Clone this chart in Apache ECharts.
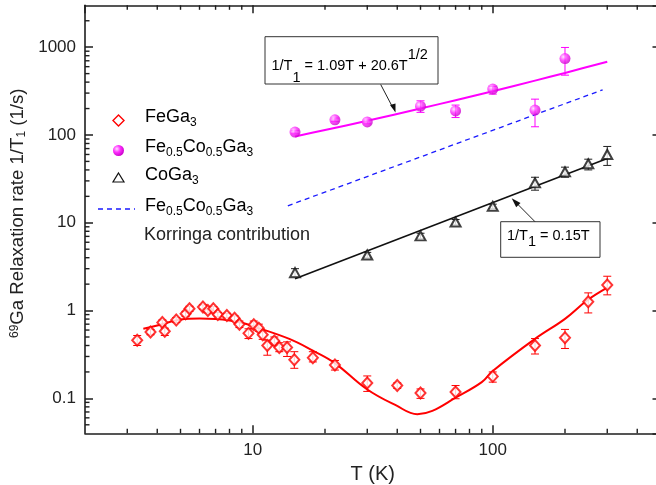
<!DOCTYPE html>
<html lang="en">
<head>
  <meta charset="UTF-8">
  <title>69Ga relaxation rate</title>
  <style>
    html, body { margin: 0; padding: 0; background: #fff; }
    #chart { width: 656px; height: 485px; }
  </style>
  <script src="https://cdn.jsdelivr.net/npm/echarts@6/dist/echarts.min.js"></script>
</head>
<body>
  <div id="chart"></div>
<script>
  // FeGa3 data (T in K, 1/T1 in 1/s)
  var feT   = [3.3, 3.75, 4.2, 4.3, 4.8, 5.25, 5.45, 6.2, 6.5, 6.85, 7.15, 7.8, 8.4, 8.8, 9.6, 10.1, 10.6, 11.0, 11.5, 12.3, 12.9, 13.9, 14.9, 17.8, 22, 30, 40, 50, 70, 100, 150, 200, 250, 300];
  var feVal = [0.46, 0.57, 0.73, 0.58, 0.78, 0.92, 1.05, 1.1, 1.0, 1.05, 0.9, 0.88, 0.82, 0.7, 0.55, 0.69, 0.63, 0.53, 0.4, 0.45, 0.38, 0.38, 0.275, 0.29, 0.24, 0.15, 0.14, 0.115, 0.118, 0.178, 0.4, 0.49, 1.26, 1.95];
  var feLo  = [0.40, 0.53, 0.68, 0.52, 0.73, 0.86, 0.98, 1.04, 0.94, 0.99, 0.85, 0.83, 0.77, 0.64, 0.48, 0.62, 0.58, 0.47, 0.31, 0.40, 0.34, 0.30, 0.22, 0.26, 0.21, 0.12, 0.13, 0.10, 0.099, 0.153, 0.32, 0.37, 0.94, 1.51];
  var feHi  = [0.52, 0.61, 0.78, 0.63, 0.83, 0.98, 1.12, 1.16, 1.06, 1.11, 0.95, 0.93, 0.87, 0.76, 0.62, 0.76, 0.70, 0.59, 0.46, 0.50, 0.43, 0.44, 0.34, 0.34, 0.27, 0.18, 0.15, 0.128, 0.14, 0.20, 0.48, 0.61, 1.59, 2.46];
  var feFitT   = [3.5, 4, 5, 6, 7, 8, 9, 10, 14.2, 17.8, 21.9, 29.8, 39.6, 48.5, 56, 69.7, 90, 100, 150, 200, 247, 300];
  var feFitVal = [0.62, 0.675, 0.79, 0.81, 0.80, 0.77, 0.725, 0.665, 0.476, 0.35, 0.254, 0.128, 0.083, 0.066, 0.072, 0.101, 0.153, 0.205, 0.476, 0.805, 1.3, 1.82];

  // Fe0.5Co0.5Ga3
  var mixT   = [15, 22, 30, 50, 70, 100, 150, 200];
  var mixVal = [108, 149, 141, 213, 188, 333, 192, 743];
  var mixLo  = [103, 142, 134, 181, 158, 292, 124, 480];
  var mixHi  = [113, 156, 148, 245, 219, 357, 256, 993];
  var mixFitT   = [15, 20, 30, 50, 70, 100, 150, 200, 300];
  var mixFitVal = [96, 114, 145, 200, 249, 315, 416, 509, 684];

  // CoGa3
  var coT   = [15, 30, 50, 70, 100, 150, 200, 250, 300];
  var coVal = [2.7, 4.3, 7.1, 10.2, 15.4, 28.5, 38, 47, 60];
  var coLo  = [2.45, 4.0, 6.6, 9.5, 14.5, 23.5, 33, 40, 45];
  var coHi  = [3.0, 4.6, 7.6, 10.9, 16.3, 33, 43, 53, 74];
  var coFitT   = [15, 300];
  var coFitVal = [2.3, 54];

  // Korringa contribution of Fe0.5Co0.5Ga3
  var korT   = [14, 287];
  var korVal = [15.6, 327];

  // axes
  var xMin = 2, xMax = 500;
  var yMin = 0.04, yMax = 3000;
  var xMinor = [3, 4, 5, 6, 7, 8, 9, 20, 30, 40, 50, 60, 70, 80, 90, 200, 300, 400];
  var yMinor = [0.05, 0.06, 0.07, 0.08, 0.09, 0.2, 0.3, 0.4, 0.5, 0.6, 0.7, 0.8, 0.9,
                2, 3, 4, 5, 6, 7, 8, 9, 20, 30, 40, 50, 60, 70, 80, 90,
                200, 300, 400, 500, 600, 700, 800, 900, 2000];

  var FONT = 'Liberation Sans';
  var AX = '#1e1e1e';

  function pairs(a, b) { return a.map(function (v, i) { return [v, b[i]]; }); }

  function errBars(T, lo, hi, color) {
    return {
      type: 'custom', silent: true, z: 3,
      data: T.map(function (t, i) { return [t, lo[i], hi[i]]; }),
      encode: { x: 0, y: [1, 2] },
      renderItem: function (params, api) {
        var a = api.coord([api.value(0), api.value(1)]);
        var b = api.coord([api.value(0), api.value(2)]);
        var w = 4;
        var st = { stroke: color, lineWidth: 1 };
        return {
          type: 'group', children: [
            { type: 'line', shape: { x1: a[0], y1: a[1], x2: b[0], y2: b[1] }, style: st },
            { type: 'line', shape: { x1: a[0] - w, y1: a[1], x2: a[0] + w, y2: a[1] }, style: st },
            { type: 'line', shape: { x1: b[0] - w, y1: b[1], x2: b[0] + w, y2: b[1] }, style: st }
          ]
        };
      }
    };
  }

  // minor ticks on all four sides, placed by the log scales
  function minorTicks(vals, dim) {
    return {
      type: 'custom', silent: true, z: 1, clip: false,
      data: vals.map(function (v) { return dim === 'x' ? [v, yMin] : [xMin, v]; }),
      encode: { x: 0, y: 1 },
      renderItem: function (params, api) {
        var cs = params.coordSys;
        var p = api.coord([api.value(0), api.value(1)]);
        var st = { stroke: AX, lineWidth: 1.4 };
        var L = 4.5;
        if (dim === 'x') {
          var yb = cs.y + cs.height, yt = cs.y;
          return { type: 'group', children: [
            { type: 'line', shape: { x1: p[0], y1: yb, x2: p[0], y2: yb - L }, style: st },
            { type: 'line', shape: { x1: p[0], y1: yt, x2: p[0], y2: yt + L }, style: st }
          ] };
        }
        var xl = cs.x, xr = cs.x + cs.width;
        return { type: 'group', children: [
          { type: 'line', shape: { x1: xl, y1: p[1], x2: xl + L, y2: p[1] }, style: st },
          { type: 'line', shape: { x1: xr, y1: p[1], x2: xr - L, y2: p[1] }, style: st }
        ] };
      }
    };
  }

  function logAxis(pos, min, max, showLabel) {
    return {
      type: 'log', position: pos, min: min, max: max, logBase: 10,
      axisLine: { show: true, onZero: false, lineStyle: { color: AX, width: 1.6 } },
      axisTick: { show: true, inside: true, length: 8, lineStyle: { color: AX, width: 1.5 } },
      splitLine: { show: false },
      minorTick: { show: false },
      axisLabel: {
        show: showLabel, showMinLabel: false, showMaxLabel: false,
        margin: 9, fontSize: 17, color: '#222', fontFamily: FONT,
        formatter: function (v) { return String(+Number(v).toPrecision(4)); }
      }
    };
  }

  var subRich = {
    n: { fontSize: 18, fontFamily: FONT, color: '#222', lineHeight: 24, verticalAlign: 'middle' },
    s: { fontSize: 12, fontFamily: FONT, color: '#222', lineHeight: 14, verticalAlign: 'bottom' }
  };
  var ball = { type: 'radial', x: 0.35, y: 0.35, r: 0.7,
    colorStops: [{ offset: 0, color: '#ffe0ff' }, { offset: 0.45, color: '#ff30ff' }, { offset: 1, color: '#c800c8' }] };

  var chart = echarts.init(document.getElementById('chart'), null, { renderer: 'canvas' });

  var option = {
    animation: false,
    backgroundColor: '#fff',
    grid: { left: 85, right: -4.5, top: 5.3, bottom: 51.7, containLabel: false, outerBoundsMode: 'none' },
    xAxis: [
      Object.assign(logAxis('bottom', xMin, xMax, true), {
        name: 'T (K)', nameLocation: 'middle', nameGap: 26,
        nameTextStyle: { fontSize: 20, color: '#222', fontFamily: FONT }
      }),
      logAxis('top', xMin, xMax, false)
    ],
    yAxis: [
      Object.assign(logAxis('left', yMin, yMax, true), {
        name: '{sup|69}Ga Relaxation rate 1/T{sub|1} (1/s)',
        nameLocation: 'middle', nameGap: 55, nameRotate: 90,
        nameTextStyle: {
          fontSize: 18.6, color: '#222', fontFamily: FONT, padding: [0, 0, 0, 12],
          rich: {
            sup: { fontSize: 12, fontFamily: FONT, color: '#222', lineHeight: 12, verticalAlign: 'top' },
            sub: { fontSize: 12, fontFamily: FONT, color: '#222', lineHeight: 12, verticalAlign: 'bottom' }
          }
        }
      }),
      logAxis('right', yMin, yMax, false)
    ],
    series: [
      minorTicks(xMinor, 'x'),
      minorTicks(yMinor, 'y'),
      // FeGa3
      errBars(feT, feLo, feHi, '#ff0000'),
      { type: 'line', data: pairs(feFitT, feFitVal), smooth: 0.4, showSymbol: false, silent: true, z: 2,
        lineStyle: { color: '#ff0000', width: 2 } },
      { type: 'scatter', name: 'FeGa3', data: pairs(feT, feVal), symbol: 'emptyDiamond', symbolSize: [10, 11], z: 5,
        itemStyle: { color: '#ff0000', borderColor: '#ff0000', borderWidth: 1.4 } },
      // Fe0.5Co0.5Ga3
      errBars(mixT, mixLo, mixHi, '#ff00ff'),
      { type: 'line', data: pairs(mixFitT, mixFitVal), smooth: 0.3, showSymbol: false, silent: true, z: 2,
        lineStyle: { color: '#ff00ff', width: 2 } },
      { type: 'scatter', name: 'Fe0.5Co0.5Ga3', data: pairs(mixT, mixVal), symbol: 'circle', symbolSize: 11, z: 5,
        itemStyle: { color: ball } },
      // CoGa3
      errBars(coT, coLo, coHi, '#222'),
      { type: 'line', data: pairs(coFitT, coFitVal), showSymbol: false, silent: true, z: 2,
        lineStyle: { color: '#111', width: 1.6 } },
      { type: 'scatter', name: 'CoGa3', data: pairs(coT, coVal), symbol: 'emptyTriangle', symbolSize: [10, 9], z: 5,
        itemStyle: { color: '#111', borderColor: '#111', borderWidth: 1.2 } },
      // Korringa
      { type: 'line', name: 'Korringa', data: pairs(korT, korVal), showSymbol: false, silent: true, z: 2,
        lineStyle: { color: '#1a1aff', width: 1.3, type: [5, 4] } }
    ],
    graphic: [
      // legend
      { type: 'polygon', shape: { points: [[118.5, 115], [124, 120.5], [118.5, 126], [113, 120.5]] },
        style: { fill: '#fff', stroke: '#ff0000', lineWidth: 1.4 } },
      { type: 'text', left: 145, top: 108, style: { text: '{n|FeGa}{s|3}', rich: subRich } },
      { type: 'circle', shape: { cx: 118.5, cy: 150.5, r: 5.5 }, style: { fill: ball } },
      { type: 'text', left: 145, top: 138, style: { text: '{n|Fe}{s|0.5}{n|Co}{s|0.5}{n|Ga}{s|3}', rich: subRich } },
      { type: 'polygon', shape: { points: [[118.5, 173], [124, 182], [113, 182]] },
        style: { fill: '#fff', stroke: '#111', lineWidth: 1.2 } },
      { type: 'text', left: 145, top: 166, style: { text: '{n|CoGa}{s|3}', rich: subRich } },
      { type: 'line', shape: { x1: 98, y1: 209, x2: 135, y2: 209 },
        style: { stroke: '#1a1aff', lineWidth: 1.3, lineDash: [5, 4] } },
      { type: 'text', left: 145, top: 197, style: { text: '{n|Fe}{s|0.5}{n|Co}{s|0.5}{n|Ga}{s|3}', rich: subRich } },
      { type: 'text', left: 144, top: 226, style: { text: 'Korringa contribution', fontSize: 18, fontFamily: FONT, fill: '#222' } },

      // annotation box 1
      { type: 'rect', shape: { x: 265, y: 36.7, width: 173, height: 47.3 },
        style: { fill: '#fff', stroke: '#333', lineWidth: 1 } },
      { type: 'text', left: 271.5, top: 47,
        style: { text: '{m|1/T}{b|1}{m| = 1.09T + 20.6T}{p|1/2}',
          rich: {
            m: { fontSize: 14.5, fontFamily: FONT, color: '#222', lineHeight: 38, verticalAlign: 'middle' },
            b: { fontSize: 14.5, fontFamily: FONT, color: '#222', lineHeight: 31, verticalAlign: 'bottom' },
            p: { fontSize: 14.5, fontFamily: FONT, color: '#222', lineHeight: 8, verticalAlign: 'top' }
          } } },
      { type: 'line', shape: { x1: 380.7, y1: 84.5, x2: 393, y2: 108 }, style: { stroke: '#222', lineWidth: 1 } },
      { type: 'polygon', shape: { points: [[395.5, 112.5], [390, 105], [395.5, 103.5]] }, style: { fill: '#111' } },

      // annotation box 2
      { type: 'rect', shape: { x: 500.7, y: 221.7, width: 99.3, height: 35.6 },
        style: { fill: '#fff', stroke: '#333', lineWidth: 1 } },
      { type: 'text', left: 507, top: 228,
        style: { text: '{m|1/T}{b|1}{m| = 0.15T}',
          rich: {
            m: { fontSize: 14.5, fontFamily: FONT, color: '#222', lineHeight: 28, verticalAlign: 'middle' },
            b: { fontSize: 14.5, fontFamily: FONT, color: '#222', lineHeight: 14, verticalAlign: 'bottom' }
          } } },
      { type: 'line', shape: { x1: 535, y1: 221.7, x2: 515, y2: 201.5 }, style: { stroke: '#222', lineWidth: 1 } },
      { type: 'polygon', shape: { points: [[511.7, 198.3], [520.5, 203], [516.2, 207.2]] }, style: { fill: '#111' } }
    ]
  };

  chart.setOption(option);
</script>
</body>
</html>
